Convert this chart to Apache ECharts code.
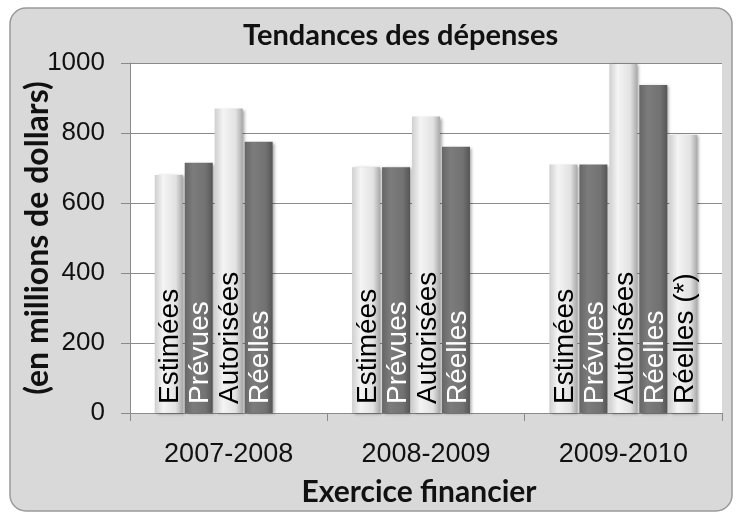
<!DOCTYPE html>
<html>
<head>
<meta charset="utf-8">
<script src="https://cdn.jsdelivr.net/npm/echarts@6/dist/echarts.min.js"></script>
<style>
  html, body { margin: 0; padding: 0; background: #fff; }
  #chart { width: 738px; height: 516px; }
</style>
</head>
<body>
<div id="chart"></div>
<script>
var years = ['2007-2008', '2008-2009', '2009-2010'];
var seriesNames = ['Estimées', 'Prévues', 'Autorisées', 'Réelles', 'Réelles (*)'];
var estimees = [680, 702, 710];
var prevues = [715, 702, 710];
var autorisees = [870, 847, 997];
var reelles = [775, 761, 937];
var reellesEtoile = [null, null, 794];
var yTicks = [0, 200, 400, 600, 800, 1000];

(function () {
    var myChart = echarts.init(document.getElementById('chart'));

    // dégradés pour imiter les barres "cylindre" d'Excel
    var lightFill = new echarts.graphic.LinearGradient(0, 0, 1, 0, [
        { offset: 0, color: '#cfcfcf' },
        { offset: 0.3, color: '#f4f4f4' },
        { offset: 0.75, color: '#e2e2e2' },
        { offset: 1, color: '#a9a9a9' }
    ]);
    var darkFill = new echarts.graphic.LinearGradient(0, 0, 1, 0, [
        { offset: 0, color: '#666666' },
        { offset: 0.3, color: '#7c7c7c' },
        { offset: 0.75, color: '#727272' },
        { offset: 1, color: '#555555' }
    ]);

    var allData = [estimees, prevues, autorisees, reelles, reellesEtoile];
    var light = [true, false, true, false, true];

    var series = seriesNames.map(function (name, i) {
        return {
            name: name,
            type: 'bar',
            barWidth: 28,
            barGap: '7%',
            data: allData[i],
            itemStyle: {
                color: light[i] ? lightFill : darkFill,
                shadowColor: 'rgba(0,0,0,0.35)',
                shadowBlur: 3,
                shadowOffsetX: 2,
                shadowOffsetY: 1
            },
            label: {
                show: true,
                formatter: '{a}',
                position: 'insideBottom',
                rotate: 90,
                align: 'left',
                verticalAlign: 'middle',
                distance: 9,
                offset: [0, 2],
                color: light[i] ? '#000' : '#fff',
                fontFamily: 'Liberation Sans',
                fontSize: 28
            }
        };
    });

    var option = {
        backgroundColor: '#fff',
        animation: false,
        graphic: [{
            type: 'rect',
            z: -10,
            shape: { x: 10, y: 8, width: 722, height: 503, r: 16 },
            style: { fill: '#d9d9d9', stroke: '#9a9a9a', lineWidth: 1.5 }
        }],
        title: {
            text: 'Tendances des dépenses',
            left: 238,
            top: 16,
            textStyle: {
                color: '#111',
                fontFamily: 'Lato',
                fontWeight: 'bold',
                fontSize: 29
            }
        },
        grid: {
            left: 130,
            right: 16,
            top: 63,
            bottom: 103,
            outerBoundsMode: 'none',
            show: true,
            backgroundColor: '#fff',
            borderWidth: 0
        },
        xAxis: {
            type: 'category',
            data: years,
            name: 'Exercice financier',
            nameLocation: 'middle',
            nameGap: 64,
            nameMoveOverlap: false,
            nameTextStyle: {
                color: '#111',
                fontFamily: 'Lato',
                fontWeight: 'bold',
                fontSize: 30,
                padding: [0, 14, 0, 0]
            },
            axisLine: { lineStyle: { color: '#8a8a8a', width: 1 } },
            axisTick: { show: true, length: 8, lineStyle: { color: '#8a8a8a' } },
            axisLabel: {
                margin: 28,
                color: '#111',
                fontFamily: 'Liberation Sans',
                fontSize: 27
            }
        },
        yAxis: {
            type: 'value',
            min: yTicks[0],
            max: yTicks[yTicks.length - 1],
            interval: 200,
            name: '(en millions de dollars)',
            nameLocation: 'middle',
            nameRotate: 90,
            nameGap: 76,
            nameMoveOverlap: false,
            nameTextStyle: {
                color: '#111',
                fontFamily: 'Lato',
                fontWeight: 'bold',
                fontSize: 32
            },
            axisLine: { show: true, lineStyle: { color: '#8a8a8a', width: 1 } },
            axisTick: { show: true, length: 9, lineStyle: { color: '#8a8a8a' } },
            axisLabel: {
                margin: 25,
                color: '#111',
                fontFamily: 'Liberation Sans',
                fontSize: 26,
                formatter: function (v) { return String(v); }
            },
            splitLine: { show: true, lineStyle: { color: '#8a8a8a', width: 1 } }
        },
        series: series
    };
    myChart.setOption(option);
    window.addEventListener('resize', function () {
        myChart.resize();
    });
})();
</script>
</body>
</html>
